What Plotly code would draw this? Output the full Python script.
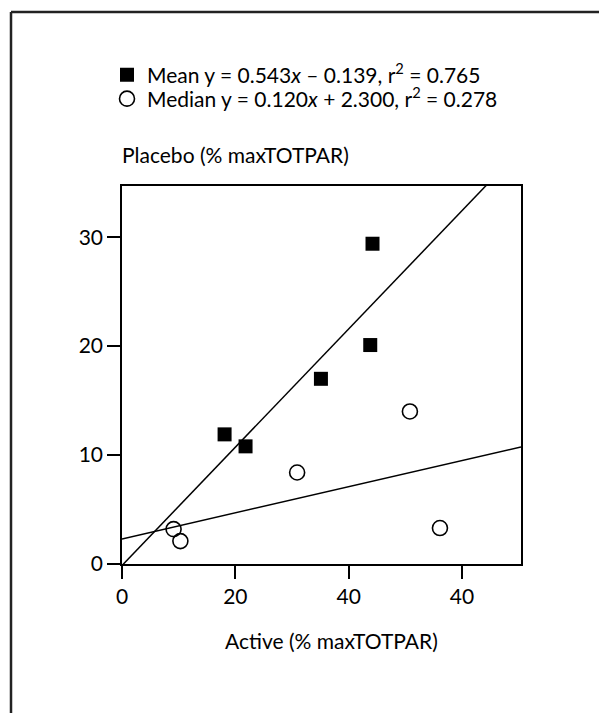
import plotly.graph_objects as go

# Mean responses (filled squares)
mean_active = [18.1, 21.8, 35.1, 43.8, 44.2]
mean_placebo = [11.9, 10.8, 17.0, 20.1, 29.4]

# Median responses (open circles)
median_active = [9.1, 10.3, 30.9, 50.8, 56.1]
median_placebo = [3.2, 2.1, 8.4, 14.0, 3.3]

# Regression fits: y = slope * x + intercept
mean_fit = {"slope": 0.543, "intercept": -0.139, "r2": 0.765}
median_fit = {"slope": 0.120, "intercept": 2.300, "r2": 0.278}

x_ticks = [0, 20, 40, 60]
x_tick_labels = ["0", "20", "40", "40"]
y_ticks = [0, 10, 20, 30]

X_MAX = 70.4
Y_MAX = 34.7
FONT = "Lato"
FS = 21

W, H = 599, 713
L, R, T, B = 122, 78, 186, 149
pw, ph = W - L - R, H - T - B


def px_x(p):
    return (p - L) / pw


def px_y(p):
    return (H - B - p) / ph


fig = go.Figure()

fit_x = [0, X_MAX]
for fit in (mean_fit, median_fit):
    fig.add_trace(go.Scatter(
        x=fit_x, y=[fit["slope"] * v + fit["intercept"] for v in fit_x],
        mode="lines", line=dict(color="black", width=1.5),
        showlegend=False, hoverinfo="skip",
    ))

fig.add_trace(go.Scatter(
    x=mean_active, y=mean_placebo, mode="markers",
    marker=dict(symbol="square", size=14, color="black", line=dict(width=0)),
    name="Mean y = %.3f<i>x</i> \u2013 %.3f, r<sup>2</sup> = %.3f"
         % (mean_fit["slope"], -mean_fit["intercept"], mean_fit["r2"]),
    cliponaxis=False, legend="legend",
))
fig.add_trace(go.Scatter(
    x=median_active, y=median_placebo, mode="markers",
    marker=dict(symbol="circle-open", size=15, color="black", line=dict(width=1.6)),
    name="Median y = %.3f<i>x</i> + %.3f, r<sup>2</sup> = %.3f"
         % (median_fit["slope"], median_fit["intercept"], median_fit["r2"]),
    cliponaxis=False, legend="legend2",
))

axis_common = dict(
    showline=True, linecolor="black", linewidth=1.5, mirror=True,
    ticks="outside", ticklen=13, tickwidth=1.5, tickcolor="black",
    showgrid=False, zeroline=False,
    tickfont=dict(family=FONT, size=FS, color="black"),
)

fig.update_xaxes(range=[0, X_MAX], tickvals=x_ticks, ticktext=x_tick_labels, **axis_common)
fig.update_yaxes(range=[0, Y_MAX], tickvals=y_ticks, **axis_common)

legend_common = dict(
    xanchor="left", yanchor="middle", bgcolor="rgba(0,0,0,0)",
    font=dict(family=FONT, size=FS, color="black"),
)

fig.update_layout(
    width=W, height=H,
    margin=dict(l=L, r=R, t=T, b=B, autoexpand=False),
    paper_bgcolor="white", plot_bgcolor="white",
    font=dict(family=FONT, size=FS, color="black"),
    legend=dict(x=px_x(107), y=px_y(75), **legend_common),
    legend2=dict(x=px_x(107), y=px_y(99), **legend_common),
    annotations=[
        dict(text="Placebo (% maxTOTPAR)", xref="paper", yref="paper",
             x=px_x(120), y=px_y(155), xanchor="left", yanchor="middle",
             showarrow=False, font=dict(family=FONT, size=FS)),
        dict(text="Active (% maxTOTPAR)", xref="paper", yref="paper",
             x=px_x(331), y=px_y(640), xanchor="center", yanchor="middle",
             showarrow=False, font=dict(family=FONT, size=FS)),
    ],
    shapes=[
        dict(type="line", xref="paper", yref="paper",
             x0=px_x(11), y0=px_y(12), x1=px_x(W + 5), y1=px_y(12),
             line=dict(color="#222", width=2.5)),
        dict(type="line", xref="paper", yref="paper",
             x0=px_x(11), y0=px_y(12), x1=px_x(11), y1=px_y(H + 5),
             line=dict(color="#222", width=2.5)),
    ],
)

fig.write_html("out.html")
